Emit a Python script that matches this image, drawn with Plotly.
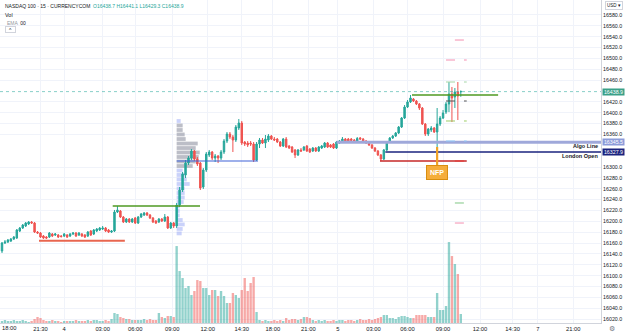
import plotly.graph_objects as go

# ---------------- data ----------------
candle_index = list(range(156))

open_ = [16145.4, 16160.1, 16161.9, 16163.8, 16167.5, 16169.3, 16182.2, 16187.7, 16191.4, 16195.1, 16198.8,
         16196.9, 16180.3, 16178.5, 16173.0, 16171.1, 16171.1, 16176.7, 16174.8, 16174.8, 16173.0,
         16173.0, 16174.8, 16173.0, 16176.7, 16178.5, 16174.8, 16176.7, 16174.8, 16173.0, 16182.2,
         16176.7, 16182.2, 16184.0, 16185.9, 16187.7, 16184.0, 16180.3, 16182.2, 16217.2, 16219.0,
         16208.0, 16198.8, 16204.3, 16198.8, 16206.1, 16196.9, 16208.0, 16211.6, 16215.3, 16211.6,
         16206.1, 16200.6, 16198.8, 16204.3, 16200.6, 16208.0, 16187.7, 16196.9, 16191.4, 16230.1,
         16257.7, 16285.4, 16307.4, 16316.6, 16329.5, 16314.8, 16307.4, 16263.2, 16294.5, 16322.2,
         16327.7, 16316.6, 16320.3, 16316.6, 16327.7, 16347.9, 16360.8, 16355.3, 16349.8, 16371.9,
         16381.1, 16346.1, 16344.2, 16344.2, 16342.4, 16312.9, 16342.4, 16349.8, 16344.2, 16349.8,
         16357.1, 16351.6, 16351.6, 16346.1, 16338.7, 16351.6, 16338.7, 16336.9, 16331.4, 16322.2,
         16331.4, 16331.4, 16338.7, 16333.2, 16329.5, 16335.0, 16329.5, 16335.0, 16336.9, 16344.2,
         16340.6, 16342.4, 16335.0, 16344.2, 16346.1, 16351.6, 16351.6, 16351.6, 16349.8, 16347.9,
         16353.5, 16351.6, 16347.9, 16344.2, 16340.6, 16335.0, 16329.5, 16322.2, 16314.8, 16331.4,
         16346.1, 16353.5, 16357.1, 16362.7, 16373.7, 16390.3, 16410.5, 16419.8, 16425.3, 16421.6,
         16416.1, 16408.7, 16379.2, 16360.8, 16368.2, 16371.9, 16364.5, 16379.2, 16390.3, 16401.3,
         16416.1, 16434.5, 16429.0, 16438.2, 16438.7]

close = [16160.1, 16161.9, 16165.6, 16167.5, 16171.1, 16184.0, 16187.7, 16193.2, 16196.9, 16198.8, 16196.9,
         16180.3, 16178.5, 16171.1, 16169.3, 16169.3, 16178.5, 16173.0, 16176.7, 16171.1, 16172.0,
         16176.7, 16171.1, 16176.7, 16178.5, 16173.0, 16178.5, 16173.0, 16171.1, 16180.3, 16174.8,
         16184.0, 16185.9, 16187.7, 16187.7, 16182.2, 16180.3, 16182.2, 16217.2, 16220.9, 16208.0,
         16198.8, 16204.3, 16198.8, 16204.3, 16196.9, 16208.0, 16213.5, 16215.3, 16211.6, 16206.1,
         16198.8, 16196.9, 16204.3, 16200.6, 16208.0, 16187.7, 16196.9, 16191.4, 16230.1, 16257.7,
         16287.2, 16307.4, 16316.6, 16329.5, 16314.8, 16305.6, 16261.4, 16294.5, 16324.0, 16327.7,
         16316.6, 16320.3, 16316.6, 16327.7, 16347.9, 16360.8, 16355.3, 16349.8, 16373.7, 16381.1,
         16344.2, 16342.4, 16340.6, 16342.4, 16312.9, 16342.4, 16349.8, 16344.2, 16351.6, 16357.1,
         16351.6, 16349.8, 16346.1, 16338.7, 16351.6, 16336.9, 16335.0, 16327.7, 16322.2, 16331.4,
         16329.5, 16336.9, 16329.5, 16327.7, 16335.0, 16329.5, 16336.9, 16338.7, 16344.2, 16336.9,
         16336.9, 16335.0, 16346.1, 16347.9, 16351.6, 16347.9, 16347.9, 16348.9, 16347.9, 16352.5,
         16351.6, 16347.9, 16344.2, 16340.6, 16335.0, 16329.5, 16322.2, 16314.8, 16331.4, 16346.1,
         16353.5, 16357.1, 16362.7, 16373.7, 16390.3, 16410.5, 16419.8, 16427.1, 16421.6, 16416.1,
         16408.7, 16379.2, 16360.8, 16370.0, 16371.9, 16364.5, 16379.2, 16390.3, 16399.5, 16416.1,
         16434.5, 16427.1, 16438.2, 16430.8, 16438.9]

high = [16161.9, 16165.6, 16167.5, 16169.3, 16173.0, 16185.9, 16189.6, 16195.1, 16198.8, 16200.6, 16200.6,
        16198.8, 16182.2, 16180.3, 16174.8, 16173.0, 16180.3, 16178.5, 16178.5, 16176.7, 16174.8,
        16178.5, 16176.7, 16178.5, 16180.3, 16180.3, 16180.3, 16178.5, 16176.7, 16182.2, 16184.0,
        16185.9, 16187.7, 16189.6, 16191.4, 16189.6, 16185.9, 16184.0, 16220.9, 16228.2, 16220.9,
        16209.8, 16206.1, 16206.1, 16206.1, 16208.0, 16209.8, 16215.3, 16217.2, 16217.2, 16213.5,
        16208.0, 16202.4, 16206.1, 16206.1, 16213.5, 16209.8, 16198.8, 16198.8, 16233.8, 16263.2,
        16290.8, 16312.9, 16320.3, 16333.2, 16331.4, 16318.5, 16309.3, 16298.2, 16327.7, 16331.4,
        16329.5, 16324.0, 16322.2, 16331.4, 16351.6, 16364.5, 16364.5, 16359.0, 16377.4, 16388.4,
        16384.8, 16347.9, 16347.9, 16347.9, 16346.1, 16346.1, 16353.5, 16353.5, 16359.0, 16360.8,
        16359.0, 16355.3, 16353.5, 16347.9, 16353.5, 16355.3, 16340.6, 16338.7, 16333.2, 16333.2,
        16335.0, 16338.7, 16340.6, 16335.0, 16336.9, 16336.9, 16338.7, 16340.6, 16346.1, 16346.1,
        16342.4, 16344.2, 16347.9, 16349.8, 16355.3, 16353.5, 16353.5, 16353.5, 16351.6, 16355.3,
        16355.3, 16353.5, 16349.8, 16346.1, 16342.4, 16336.9, 16331.4, 16324.0, 16333.2, 16347.9,
        16355.3, 16359.0, 16364.5, 16375.6, 16392.1, 16414.2, 16423.4, 16432.7, 16427.1, 16423.4,
        16417.9, 16410.5, 16381.1, 16371.9, 16375.6, 16373.7, 16408.7, 16394.0, 16405.0, 16419.8,
        16456.6, 16447.4, 16445.5, 16456.6, 16441.1]

low = [16141.7, 16158.2, 16160.1, 16161.9, 16165.6, 16167.5, 16180.3, 16185.9, 16189.6, 16193.2, 16195.1,
       16178.5, 16176.7, 16169.3, 16167.5, 16167.5, 16169.3, 16171.1, 16173.0, 16169.3, 16170.2,
       16171.1, 16169.3, 16171.1, 16174.8, 16171.1, 16173.0, 16171.1, 16169.3, 16171.1, 16173.0,
       16174.8, 16180.3, 16182.2, 16184.0, 16180.3, 16178.5, 16178.5, 16180.3, 16215.3, 16206.1,
       16196.9, 16196.9, 16196.9, 16196.9, 16195.1, 16195.1, 16206.1, 16209.8, 16209.8, 16204.3,
       16196.9, 16195.1, 16196.9, 16198.8, 16198.8, 16185.9, 16185.9, 16187.7, 16187.7, 16226.4,
       16254.0, 16279.8, 16303.7, 16312.9, 16311.1, 16301.9, 16257.7, 16259.6, 16290.8, 16318.5,
       16312.9, 16309.3, 16307.4, 16312.9, 16324.0, 16344.2, 16351.6, 16327.7, 16346.1, 16368.2,
       16340.6, 16338.7, 16336.9, 16338.7, 16309.3, 16311.1, 16335.0, 16342.4, 16335.0, 16346.1,
       16349.8, 16347.9, 16344.2, 16336.9, 16336.9, 16335.0, 16333.2, 16325.8, 16316.6, 16320.3,
       16327.7, 16329.5, 16327.7, 16325.8, 16327.7, 16327.7, 16327.7, 16333.2, 16335.0, 16335.0,
       16335.0, 16333.2, 16333.2, 16342.4, 16344.2, 16346.1, 16346.1, 16346.1, 16346.1, 16346.1,
       16349.8, 16346.1, 16342.4, 16338.7, 16333.2, 16327.7, 16320.3, 16311.1, 16312.9, 16329.5,
       16344.2, 16351.6, 16355.3, 16360.8, 16371.9, 16388.4, 16408.7, 16417.9, 16419.8, 16414.2,
       16405.0, 16377.4, 16357.1, 16357.1, 16364.5, 16362.7, 16336.9, 16375.6, 16388.4, 16397.7,
       16401.3, 16382.9, 16408.7, 16386.6, 16429.3]

volume = [200, 300, 200, 200, 300, 200, 200, 300, 200, 100, 200,
          400, 600, 500, 300,
          200, 200, 300, 200, 200, 100, 200, 200, 200, 200, 300, 200, 200, 200, 300, 200, 300, 300, 200, 200, 300, 200,
          400, 1000, 900, 600, 500, 400, 400,
          300, 300, 300, 300, 400, 300, 400, 300, 300,
          1000, 600, 500, 700, 700, 600,
          7700, 5200, 4500, 3500, 3700, 2800, 3200, 4300, 4200, 3500, 3500, 2800, 3300, 3300, 2700, 3200, 2700, 2000, 2000, 3000,
          2800, 2500, 3300, 4500, 3200, 4000, 4600, 1100,
          300, 200, 300, 200, 200, 300, 200, 300, 200, 500,
          300, 400, 400, 300, 400,
          600, 600, 500,
          300, 200, 300, 200, 300, 200, 200, 300, 200,
          300, 300, 200, 300, 300, 200, 300,
          400, 300, 300, 400, 300,
          400, 500, 600,
          800, 800,
          500, 500, 400,
          600, 700, 700,
          600, 500, 500,
          800, 800, 800, 800,
          600, 600, 600,
          3000, 1300, 1300, 1700, 8100, 6700, 5900, 4900, 900]

tick_index = [0, 13, 21, 34, 45, 57.5, 69.5, 81, 91.5, 103.5, 113.5, 125.5, 137, 149, 161.5, 172.5, 181, 193]
tick_labels = ["18:00", "21:30", "4", "03:00", "06:00", "09:00", "12:00", "14:30", "18:00", "21:00",
               "5", "03:00", "06:00", "09:00", "12:00", "14:30", "7", "21:00"]
price_ticks = list(range(16020, 16600, 20))

# session volume profile (Nov 4 cash session)
profile_anchor = 59
profile_price = [16384.8, 16376.5, 16368.2, 16360.0, 16351.6, 16343.3, 16335.0, 16326.8, 16318.5, 16310.2,
                 16301.9, 16293.6, 16285.4, 16277.1, 16268.8, 16260.5, 16252.2, 16244.0, 16235.6, 16227.4,
                 16219.1, 16210.9, 16202.5, 16194.3, 16186.0, 16177.8]
profile_volume = [40, 60, 60, 80, 90, 210, 190, 230, 220, 190,
                  160, 60, 80, 100, 130, 80, 80, 80, 70, 30,
                  30, 30, 60, 80, 60, 50]
value_area_high = 16380
value_area_low = 16298

# drawn horizontal levels: price, start candle, end candle
green_lvl = [(16228.2, 37.4, 66.9), (16432.7, 138.5, 167.6)]
red_left_lvl = (16164.3, 12.5, 41.5)
red_right_lvl = (16311.1, 127.7, 157.0)
poc_lvl = (16311.1, 59.0, 86.5)
algo_line = (16345.5, 113.0)
london_open = (16327.9, 129.5)
pivot_levels = [16533.9, 16497.1, 16456.6, 16421.6, 16384.8, 16347.9, 16311.1, 16233.8, 16196.9]
pivot_start = [153, 150, 150, 150, 150, 150, 153, 153, 153]
nfp_index = 147
nfp_price = 16336.9

# ---------------- styles ----------------
UP = '#26a69a'
DN = '#ef5350'
FONT = 'Liberation Sans'
pivot_colors = ['#f48fb1', '#f48fb1', '#a5d6a7', '#555555', '#9ccc65', '#90caf9', '#e53935', '#81c784', '#f48fb1']

X_RANGE = [-0.676, 202.36]
Y_RANGE = [16012.8, 16607.6]
PLOT_H = 323

vol_colors = ['rgba(38,166,154,0.5)' if c >= o else 'rgba(239,83,80,0.5)' for o, c in zip(open_, close)]

tag_prices = [close[-1], algo_line[0], london_open[0]]
shown_ticks = [t for t in price_ticks if all(abs(t - p) > 9 for p in tag_prices)]

fig = go.Figure()

fig.add_trace(go.Bar(x=candle_index, y=volume, marker=dict(color=vol_colors, line=dict(width=0)),
                     xaxis='x', yaxis='y', hoverinfo='skip', showlegend=False))

pmax = max(profile_volume)
prof_colors = ['rgba(160,163,175,0.7)' if value_area_low <= p <= value_area_high else 'rgba(150,165,245,0.5)'
               for p in profile_price]
fig.add_trace(go.Bar(orientation='h', y=profile_price, x=[v / pmax * 7.8 for v in profile_volume],
                     base=profile_anchor, width=7.0, marker=dict(color=prof_colors, line=dict(width=0)),
                     xaxis='x', yaxis='y2', hoverinfo='skip', showlegend=False))

fig.add_trace(go.Candlestick(x=candle_index, open=open_, high=high, low=low, close=close,
                             xaxis='x', yaxis='y2', whiskerwidth=0,
                             increasing=dict(line=dict(color=UP, width=1), fillcolor=UP),
                             decreasing=dict(line=dict(color=DN, width=1), fillcolor=DN),
                             hoverinfo='skip', showlegend=False))

shapes = []
def hline(p, x0, x1, color, width, dash='solid'):
    shapes.append(dict(type='line', xref='x', yref='y2', x0=x0, x1=x1, y0=p, y1=p,
                       line=dict(color=color, width=width, dash=dash)))

# current price line
shapes.append(dict(type='line', xref='paper', yref='y2', x0=0, x1=1, y0=close[-1], y1=close[-1],
                   line=dict(color='rgba(38,166,154,0.55)', width=1, dash='dot')))
for p, a, b in green_lvl:
    hline(p, a, b, '#4f9a22', 1.5)
hline(red_left_lvl[0], red_left_lvl[1], red_left_lvl[2], '#e8664f', 2)
hline(poc_lvl[0], poc_lvl[1], poc_lvl[2], '#3f63d8', 1.2)
hline(red_right_lvl[0], red_right_lvl[1], red_right_lvl[2], '#c62828', 1.3)
hline(algo_line[0], algo_line[1], X_RANGE[1] + 5, '#9fa8da', 3)
hline(london_open[0], london_open[1], X_RANGE[1] + 5, '#1a237e', 1.5)
for p, s, c in zip(pivot_levels, pivot_start, pivot_colors):
    hline(p, s, 157, c, 1, 'dash')

annotations = []
def paper_y(px):
    return 1 - px / PLOT_H

# header
annotations.append(dict(xref='paper', yref='paper', x=0.005, y=paper_y(6), xanchor='left', yanchor='middle',
                        text=('NASDAQ 100 · 15 · CURRENCYCOM  '
                              f'<span style="color:{UP}">O{open_[-1]:.1f} H{high[-1]:.1f} '
                              f'L{low[-1]:.1f} C{close[-1]:.1f}</span>'),
                        showarrow=False, font=dict(family=FONT, size=5, color='#131722')))
annotations.append(dict(xref='paper', yref='paper', x=0.005, y=paper_y(15), xanchor='left', yanchor='middle',
                        text='Vol', showarrow=False, font=dict(family=FONT, size=5.5, color='#131722')))
annotations.append(dict(xref='paper', yref='paper', x=0.008, y=paper_y(23), xanchor='left', yanchor='middle',
                        text='<span style="color:#9598a1">EMA</span>  00', showarrow=False,
                        font=dict(family=FONT, size=5, color='#131722')))
annotations.append(dict(xref='paper', yref='paper', x=10 / 601, y=paper_y(30), xanchor='center', yanchor='middle',
                        text='^', showarrow=False, bordercolor='#d1d4dc', borderwidth=1, borderpad=0,
                        width=9, height=5, font=dict(family=FONT, size=5, color='#131722')))

# first time label (at the left edge)
annotations.append(dict(xref='paper', yref='paper', x=0, y=-5 / PLOT_H, xanchor='left', yanchor='middle',
                        text=tick_labels[0], showarrow=False, font=dict(family=FONT, size=5.8, color='#131722')))

# price tags
for p, bg, fg in [(tag_prices[0], '#3aa088', 'white'), (tag_prices[1], '#8c9bd9', 'white'), (tag_prices[2], '#1a237e', 'white')]:
    annotations.append(dict(xref='paper', yref='y2', x=1, y=p, xanchor='left', yanchor='middle', xshift=1,
                            text=f'{p:.1f}', showarrow=False, bgcolor=bg, width=21, height=6, borderpad=0,
                            font=dict(family=FONT, size=5.3, color=fg)))
# line labels
annotations.append(dict(xref='paper', yref='y2', x=1, y=algo_line[0], xanchor='right', yanchor='middle',
                        xshift=-1, yshift=-4, text='<b>Algo Line</b>', showarrow=False,
                        font=dict(family=FONT, size=5.5, color='#131722')))
annotations.append(dict(xref='paper', yref='y2', x=1, y=london_open[0], xanchor='right', yanchor='middle',
                        xshift=-1, yshift=-4, text='<b>London Open</b>', showarrow=False,
                        font=dict(family=FONT, size=5.5, color='#131722')))
# NFP callout
annotations.append(dict(xref='x', yref='y2', x=nfp_index, y=nfp_price, text='<b>NFP</b>', showarrow=True,
                        arrowhead=0, arrowwidth=2.2, arrowcolor='#f0a326', ax=0, ay=25,
                        bgcolor='#f5ad3b', bordercolor='#d98e10', borderwidth=1, borderpad=3,
                        font=dict(family=FONT, size=7, color='white')))
# USD selector & gear
annotations.append(dict(xref='paper', yref='paper', x=1, y=paper_y(6), xanchor='center', yanchor='middle',
                        xshift=13, text='USD ▾', showarrow=False, bordercolor='#d1d4dc', borderwidth=1,
                        borderpad=1, font=dict(family=FONT, size=4.5, color='#131722')))
annotations.append(dict(xref='paper', yref='paper', x=1, y=-6 / PLOT_H, xanchor='center', yanchor='middle',
                        xshift=11, text='⚙', showarrow=False, font=dict(family='DejaVu Sans', size=7, color='#787b86')))

fig.update_layout(
    width=625, height=334, margin=dict(l=0, r=24, t=0, b=11),
    paper_bgcolor='white', plot_bgcolor='white', showlegend=False,
    barmode='overlay', bargap=0.2,
    font=dict(family=FONT, size=6, color='#131722'),
    xaxis=dict(range=X_RANGE, tickmode='array', tickvals=tick_index[1:], ticktext=tick_labels[1:],
               showgrid=True, gridcolor='#f0f3fa', gridwidth=1, zeroline=False,
               showline=True, linecolor='#d1d4dc', linewidth=1, ticks='',
               rangeslider=dict(visible=False), tickfont=dict(family=FONT, size=5.8, color='#131722')),
    yaxis=dict(range=[0, max(volume) * 3.99], visible=False, showgrid=False, zeroline=False),
    yaxis2=dict(overlaying='y', anchor='x', side='right', range=Y_RANGE, tickmode='array',
                tickvals=shown_ticks, tickformat='.1f', showgrid=True, gridcolor='#f0f3fa', gridwidth=1,
                zeroline=False, showline=True, linecolor='#d1d4dc', linewidth=1, ticks='',
                tickfont=dict(family=FONT, size=5.3, color='#131722')),
    shapes=shapes, annotations=annotations,
)

fig.write_html('out.html')
